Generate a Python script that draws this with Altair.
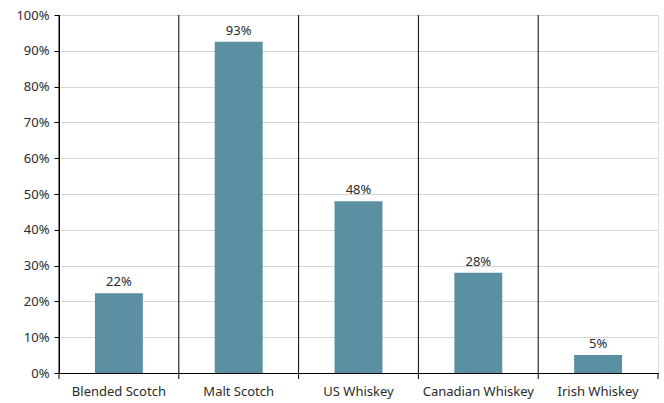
import altair as alt
import pandas as pd

categories = ["Blended Scotch", "Malt Scotch", "US Whiskey", "Canadian Whiskey", "Irish Whiskey"]
values = [0.223, 0.925, 0.48, 0.28, 0.05]
y_ticks = [0.0, 0.1, 0.2, 0.3, 0.4, 0.5, 0.6, 0.7, 0.8, 0.9, 1.0]

df = pd.DataFrame({"cat": categories, "val": values})

W, H = 599, 358
FONT = "Noto Sans"

xscale = alt.Scale(domain=categories, paddingInner=0, paddingOuter=0)
yscale = alt.Scale(domain=[0, 1])

xaxis = alt.Axis(labelAngle=0, ticks=False, domainColor="#000000", domainWidth=1,
                 labelFont=FONT, labelFontSize=13, labelColor="#2b2b2b",
                 labelPadding=12, grid=False)
yaxis = alt.Axis(format=".0%", values=y_ticks, labelOverlap=False, tickCount=11,
                 gridColor="#d4d4d4", gridWidth=1, tickColor="#000000",
                 tickSize=5, domainColor="#000000", labelFont=FONT,
                 labelFontSize=13, labelColor="#2b2b2b", labelPadding=5)

X = alt.X("cat:N", scale=xscale, sort=categories, title=None, axis=xaxis)
Y = alt.Y("val:Q", scale=yscale, title=None, axis=yaxis)

bars = alt.Chart(df).mark_bar(color="#5B90A3", width=alt.RelativeBandSize(0.4)).encode(x=X, y=Y)

text = alt.Chart(df).mark_text(baseline="bottom", dy=-4, font=FONT, fontSize=13, color="#2b2b2b").encode(
    x=X, y=Y, text=alt.Text("val:Q", format=".0%"),
)

seps = alt.Chart(df).mark_rule(color="#000000", strokeWidth=1).encode(
    x=alt.X("cat:N", scale=xscale, sort=categories, title=None, axis=xaxis, bandPosition=0),
    y=alt.value(0),
    y2=alt.value(H + 6),
)

right_tick = alt.Chart(df.head(1)).mark_rule(color="#000000", strokeWidth=1).encode(
    x=alt.value(W),
    y=alt.value(H),
    y2=alt.value(H + 6),
)

chart = alt.layer(bars, seps, right_tick, text).properties(
    width=W, height=H,
    autosize=alt.AutoSizeParams(type="none"),
    padding={"left": 59, "top": 15, "right": 6, "bottom": 30},
).configure_view(stroke="#000000", strokeWidth=1).configure(background="white")

chart.save("out.html", embed_options={"renderer": "svg", "actions": False})
